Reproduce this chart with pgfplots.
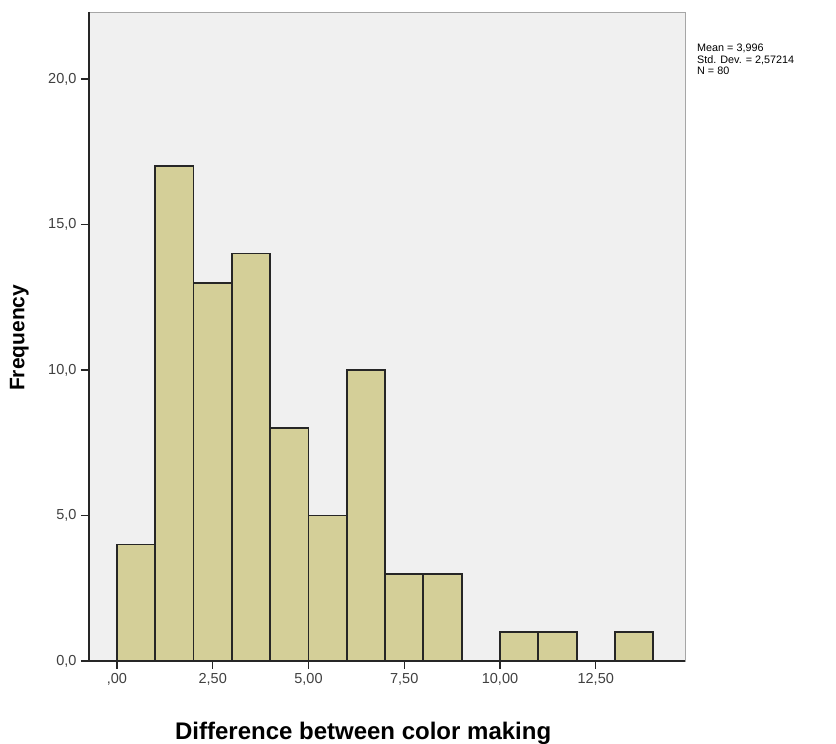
\documentclass[border=0pt]{standalone}
\usepackage{pgfplots}
\pgfplotsset{compat=1.18}
\usepackage{fontspec}
\setmainfont{Liberation Sans}
\definecolor{barfill}{HTML}{D4CF98}
\definecolor{bg}{HTML}{F0F0F0}
\begin{document}
\begin{tikzpicture}
\path[use as bounding box] (0pt,0pt) rectangle (836pt,744pt);
\begin{axis}[
  at={(89pt,83pt)}, anchor=south west,
  scale only axis, width=596pt, height=649pt,
  xmin=-0.73, xmax=14.83, ymin=0, ymax=22.3,
  axis background/.style={fill=bg},
  axis line style={draw=gray!70, line width=0.8pt},
  xtick={0,2.5,5,7.5,10,12.5},
  xticklabels={{,00},{2,50},{5,00},{7,50},{10,00},{12,50}},
  ytick={0,5,10,15,20},
  yticklabels={{0,0},{5,0},{10,0},{15,0},{20,0}},
  xtick pos=left, ytick pos=left, tick align=outside,
  major tick length=8pt,
  tick style={black!85, line width=1.3pt},
  ticklabel style={font=\fontsize{14.5}{16}\selectfont, text=black!75},
  yticklabel style={xshift=-1pt},
  xticklabel style={yshift=-1pt},
  xlabel={\textbf{Difference between color making}},
  ylabel={\textbf{Frequency}},
  xlabel style={font=\fontsize{24}{26}\selectfont, at={(axis description cs:0.46,-0.111)}, anchor=center},
  ylabel style={font=\fontsize{21}{23}\selectfont, at={(axis description cs:-0.117,0.498)}, anchor=center, rotate=0},
  clip=false,
]
\addplot[ybar interval, fill=barfill, draw=black!85, line width=1.8pt] coordinates {
(0,4) (1,17) (2,13) (3,14) (4,8) (5,5) (6,10) (7,3) (8,3) (9,0) (10,1) (11,1) (12,0) (13,1) (14,1)
};
\draw[black!85, line width=1.6pt] (rel axis cs:0,1) -- (rel axis cs:0,0) -- (rel axis cs:1,0);
\end{axis}
\node[anchor=north west, align=left, font=\fontsize{10.8}{11.5}\selectfont, inner sep=0pt] at (697pt,700pt)
 {Mean = 3,996\\Std. Dev. = 2,57214\\N = 80};
\end{tikzpicture}
\end{document}
